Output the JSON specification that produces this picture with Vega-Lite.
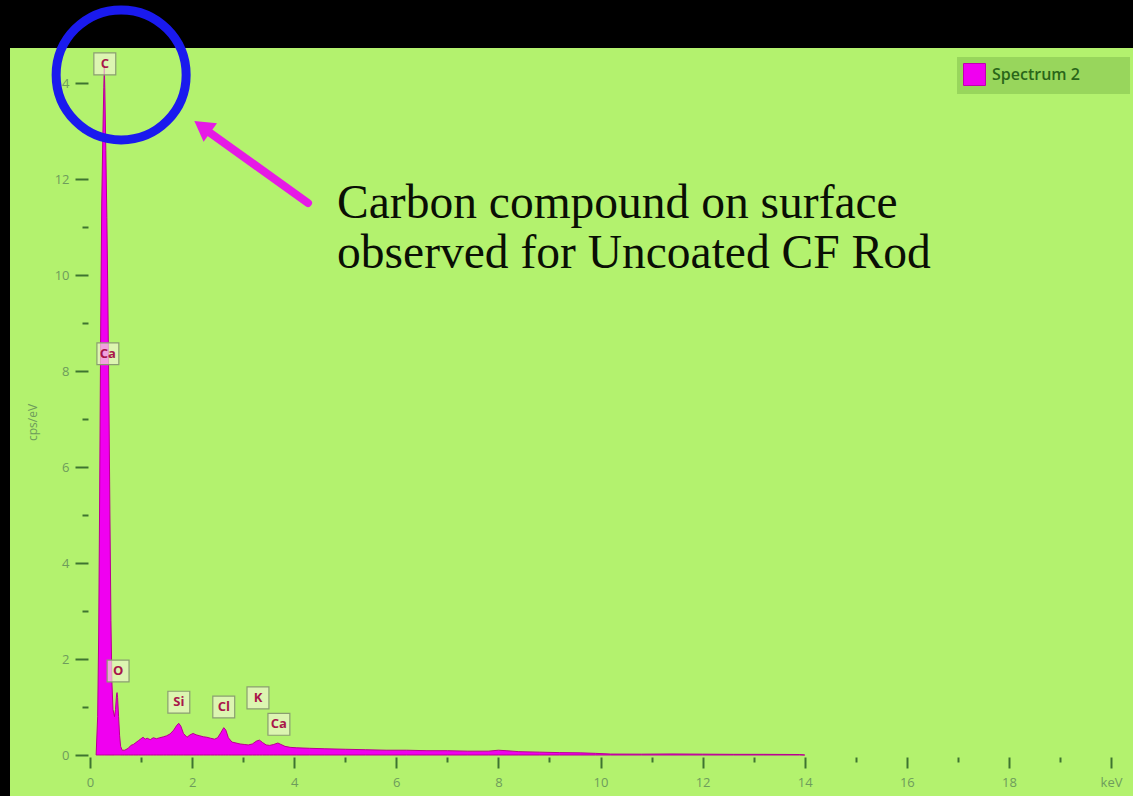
{
  "$schema": "https://vega.github.io/schema/vega-lite/v6.json",
  "width": 1123,
  "height": 748,
  "autosize": {"type": "none"},
  "padding": {"left": 10, "top": 48, "right": 0, "bottom": 0},
  "background": "#000000",
  "config": {
    "view": {"fill": "#b3f26e", "stroke": null},
    "axis": {"grid": false, "domain": false, "labelFont": "Open Sans", "labelFontSize": 13, "labelColor": "#6e9c5c", "tickColor": "#3e7430", "tickWidth": 2}
  },
  "datasets": {
    "spectrum": [
      {"kev": 0.12, "cps": 0}, {"kev": 0.15, "cps": 0.8}, {"kev": 0.17, "cps": 2.5}, {"kev": 0.19, "cps": 5.5},
      {"kev": 0.21, "cps": 9.0}, {"kev": 0.23, "cps": 11.5}, {"kev": 0.25, "cps": 12.8}, {"kev": 0.27, "cps": 13.9},
      {"kev": 0.28, "cps": 14.35}, {"kev": 0.29, "cps": 13.9}, {"kev": 0.31, "cps": 12.6}, {"kev": 0.33, "cps": 11.2},
      {"kev": 0.35, "cps": 9.5}, {"kev": 0.37, "cps": 7.5}, {"kev": 0.39, "cps": 5.0}, {"kev": 0.41, "cps": 2.8},
      {"kev": 0.43, "cps": 1.5}, {"kev": 0.45, "cps": 0.95},
      {"kev": 0.48, "cps": 0.8}, {"kev": 0.5, "cps": 0.95}, {"kev": 0.52, "cps": 1.25}, {"kev": 0.53, "cps": 1.3},
      {"kev": 0.54, "cps": 1.2}, {"kev": 0.56, "cps": 0.8}, {"kev": 0.58, "cps": 0.4}, {"kev": 0.6, "cps": 0.18},
      {"kev": 0.63, "cps": 0.1}, {"kev": 0.68, "cps": 0.1}, {"kev": 0.75, "cps": 0.14}, {"kev": 0.8, "cps": 0.2},
      {"kev": 0.85, "cps": 0.22}, {"kev": 0.9, "cps": 0.26}, {"kev": 0.95, "cps": 0.3}, {"kev": 1.0, "cps": 0.34},
      {"kev": 1.04, "cps": 0.37}, {"kev": 1.08, "cps": 0.33}, {"kev": 1.12, "cps": 0.35}, {"kev": 1.18, "cps": 0.32},
      {"kev": 1.24, "cps": 0.36}, {"kev": 1.3, "cps": 0.34}, {"kev": 1.37, "cps": 0.36}, {"kev": 1.44, "cps": 0.38},
      {"kev": 1.5, "cps": 0.4}, {"kev": 1.57, "cps": 0.44}, {"kev": 1.64, "cps": 0.52}, {"kev": 1.7, "cps": 0.62},
      {"kev": 1.74, "cps": 0.66}, {"kev": 1.78, "cps": 0.6}, {"kev": 1.83, "cps": 0.45}, {"kev": 1.9, "cps": 0.37},
      {"kev": 1.96, "cps": 0.42}, {"kev": 2.02, "cps": 0.45}, {"kev": 2.08, "cps": 0.42}, {"kev": 2.15, "cps": 0.4},
      {"kev": 2.22, "cps": 0.38}, {"kev": 2.29, "cps": 0.37}, {"kev": 2.36, "cps": 0.35}, {"kev": 2.44, "cps": 0.33},
      {"kev": 2.5, "cps": 0.36}, {"kev": 2.56, "cps": 0.46}, {"kev": 2.62, "cps": 0.57}, {"kev": 2.66, "cps": 0.52},
      {"kev": 2.71, "cps": 0.36}, {"kev": 2.78, "cps": 0.27}, {"kev": 2.86, "cps": 0.25}, {"kev": 2.94, "cps": 0.23},
      {"kev": 3.02, "cps": 0.22}, {"kev": 3.1, "cps": 0.21}, {"kev": 3.18, "cps": 0.23}, {"kev": 3.26, "cps": 0.29},
      {"kev": 3.32, "cps": 0.31}, {"kev": 3.38, "cps": 0.26}, {"kev": 3.45, "cps": 0.21}, {"kev": 3.52, "cps": 0.2},
      {"kev": 3.6, "cps": 0.22}, {"kev": 3.68, "cps": 0.25}, {"kev": 3.74, "cps": 0.22}, {"kev": 3.82, "cps": 0.18},
      {"kev": 3.92, "cps": 0.16}, {"kev": 4.05, "cps": 0.15}, {"kev": 4.3, "cps": 0.14}, {"kev": 4.6, "cps": 0.13},
      {"kev": 5.0, "cps": 0.12}, {"kev": 5.4, "cps": 0.11}, {"kev": 5.8, "cps": 0.1}, {"kev": 6.2, "cps": 0.1},
      {"kev": 6.6, "cps": 0.09}, {"kev": 7.0, "cps": 0.09}, {"kev": 7.4, "cps": 0.08}, {"kev": 7.8, "cps": 0.08},
      {"kev": 8.0, "cps": 0.1}, {"kev": 8.15, "cps": 0.09}, {"kev": 8.4, "cps": 0.07}, {"kev": 8.8, "cps": 0.06},
      {"kev": 9.2, "cps": 0.05}, {"kev": 9.6, "cps": 0.045}, {"kev": 9.9, "cps": 0.035}, {"kev": 10.2, "cps": 0.02},
      {"kev": 10.8, "cps": 0.018}, {"kev": 11.4, "cps": 0.022}, {"kev": 12.0, "cps": 0.018}, {"kev": 12.6, "cps": 0.014},
      {"kev": 13.2, "cps": 0.014}, {"kev": 13.9, "cps": 0.01}, {"kev": 14.0, "cps": 0}
    ],
    "elements": [
      {"name": "C", "kev": 0.29, "cps": 14.4},
      {"name": "Ca", "kev": 0.35, "cps": 8.36},
      {"name": "O", "kev": 0.55, "cps": 1.75},
      {"name": "Si", "kev": 1.74, "cps": 1.1},
      {"name": "Cl", "kev": 2.62, "cps": 1.0},
      {"name": "K", "kev": 3.29, "cps": 1.19},
      {"name": "Ca", "kev": 3.7, "cps": 0.64}
    ],
    "note": [
      {"line": "Carbon compound on surface", "kev": 4.84, "cps": 11.19},
      {"line": "observed for Uncoated CF Rod", "kev": 4.84, "cps": 10.15}
    ],
    "arrow": [
      {"kev": 4.27, "cps": 11.5, "kev2": 2.24, "cps2": 13.05}
    ],
    "arrowhead": [
      {"kev": 2.2, "cps": 13.09}
    ],
    "circle": [
      {"kev": 0.61, "cps": 14.17}
    ]
  },
  "layer": [
    {
      "data": {"name": "spectrum"},
      "transform": [{"calculate": "'Spectrum 2'", "as": "series"}],
      "mark": {"type": "area", "stroke": "#b8008f", "strokeWidth": 1, "fillOpacity": 1},
      "encoding": {
        "x": {
          "field": "kev", "type": "quantitative",
          "scale": {"domain": [-1.567, 20.43], "nice": false, "zero": false},
          "axis": {
            "title": null, "orient": "bottom", "offset": -39,
            "values": [0,0.5,1,1.5,2,2.5,3,3.5,4,4.5,5,5.5,6,6.5,7,7.5,8,8.5,9,9.5,10,10.5,11,11.5,12,12.5,13,13.5,14,14.5,15,15.5,16,16.5,17,17.5,18,18.5,19,19.5,20],
            "labelExpr": "datum.value % 2 == 0 ? (datum.value == 20 ? 'keV' : datum.label) : ''",
            "tickSize": {"condition": {"test": "datum.value % 2 == 0", "value": 11}, "value": 5},
            "labelPadding": 8
          }
        },
        "y": {
          "field": "cps", "type": "quantitative",
          "scale": {"domain": [-0.854, 14.73], "nice": false, "zero": false},
          "axis": {
            "title": "cps/eV", "orient": "left", "offset": -78,
            "titleFont": "Open Sans", "titleFontSize": 12, "titleFontWeight": "normal", "titleColor": "#6e9c5c", "titlePadding": 15,
            "values": [0,0.5,1,1.5,2,2.5,3,3.5,4,4.5,5,5.5,6,6.5,7,7.5,8,8.5,9,9.5,10,10.5,11,11.5,12,12.5,13,13.5,14,14.5],
            "labelExpr": "datum.value % 2 == 0 ? datum.label : ''",
            "tickSize": {"condition": {"test": "datum.value % 2 == 0", "value": 13}, "value": 6},
            "labelPadding": 6
          }
        },
        "color": {
          "field": "series", "type": "nominal",
          "scale": {"range": ["#f000f0"]},
          "legend": {
            "title": "\u2003\u2003", "titleOrient": "right", "titlePadding": 44, "titleFontSize": 16,
            "orient": "none", "legendX": 947, "legendY": 9,
            "fillColor": "#98d65c", "padding": 6, "symbolType": "square", "symbolSize": 484,
            "symbolStrokeColor": "#c000b0", "symbolStrokeWidth": 1,
            "labelFont": "Open Sans", "labelFontSize": 16, "labelFontWeight": 600, "labelColor": "#2a6619", "labelOffset": 6
          }
        }
      }
    },
    {
      "data": {"name": "elements"},
      "mark": {"type": "point", "shape": "square", "filled": true, "size": 480, "fill": "#f2f6d6", "fillOpacity": 0.65, "stroke": "#8a9e70", "strokeWidth": 1.2},
      "encoding": {
        "x": {"field": "kev", "type": "quantitative"},
        "y": {"field": "cps", "type": "quantitative"}
      }
    },
    {
      "data": {"name": "elements"},
      "mark": {"type": "text", "font": "Open Sans", "fontSize": 13, "fontWeight": "bold", "fill": "#a8154a", "align": "center", "baseline": "middle"},
      "encoding": {
        "x": {"field": "kev", "type": "quantitative"},
        "y": {"field": "cps", "type": "quantitative"},
        "text": {"field": "name"}
      }
    },
    {
      "data": {"name": "note"},
      "mark": {"type": "text", "font": "Liberation Serif", "fontSize": 47.5, "fill": "#0a0f05", "align": "left", "baseline": "alphabetic"},
      "encoding": {
        "x": {"field": "kev", "type": "quantitative"},
        "y": {"field": "cps", "type": "quantitative"},
        "text": {"field": "line"}
      }
    },
    {
      "data": {"name": "arrow"},
      "mark": {"type": "rule", "stroke": "#e61ae6", "strokeWidth": 8, "strokeCap": "round"},
      "encoding": {
        "x": {"field": "kev", "type": "quantitative"},
        "y": {"field": "cps", "type": "quantitative"},
        "x2": {"field": "kev2"},
        "y2": {"field": "cps2"}
      }
    },
    {
      "data": {"name": "arrowhead"},
      "mark": {"type": "point", "shape": "triangle-up", "filled": true, "size": 520, "fill": "#e61ae6", "angle": 306, "opacity": 1},
      "encoding": {
        "x": {"field": "kev", "type": "quantitative"},
        "y": {"field": "cps", "type": "quantitative"}
      }
    },
    {
      "data": {"name": "circle"},
      "mark": {"type": "point", "shape": "circle", "filled": false, "size": 16900, "stroke": "#1a1aee", "strokeWidth": 9, "opacity": 1},
      "encoding": {
        "x": {"field": "kev", "type": "quantitative"},
        "y": {"field": "cps", "type": "quantitative"}
      }
    }
  ]
}
